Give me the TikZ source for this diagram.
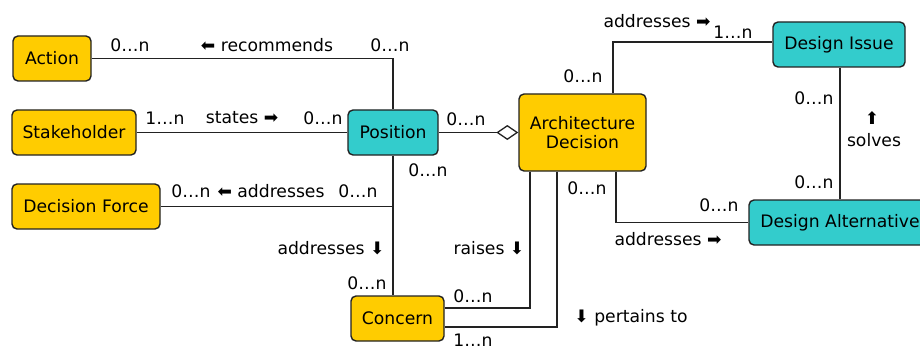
\documentclass[tikz,border=0pt]{standalone}
\usepackage{fontspec}
\setmainfont{DejaVu Sans}
\usetikzlibrary{arrows.meta}
\definecolor{yel}{HTML}{FFCC00}
\definecolor{cya}{HTML}{33CCCC}
\definecolor{edge}{HTML}{222222}
\begin{document}
\begin{tikzpicture}[x=1pt,y=-1pt,
  font=\fontsize{17.2}{20}\selectfont,
  basebox/.style={draw=edge, line width=1.4pt, rounded corners=5pt, minimum height=45pt, inner sep=0pt, align=center},
  ybox/.style={basebox, fill=yel},
  cbox/.style={basebox, fill=cya},
  conn/.style={draw=edge, line width=1.4pt},
  lbl/.style={inner sep=0pt, text=black}]
\useasboundingbox (0,0) rectangle (920,350);
\clip (0,0) rectangle (920,350);
% nodes
\node[ybox, minimum width=78pt] (action) at (52,58.5) {Action};
\node[ybox, minimum width=124pt] (stake) at (74,132.5) {Stakeholder};
\node[ybox, minimum width=148pt] (force) at (86,206.5) {Decision Force};
\node[cbox, minimum width=90pt] (pos) at (393,132.5) {Position};
\node[ybox, minimum width=127pt, minimum height=77pt] (ad) at (582.5,132.5) {Architecture\\[-1pt]Decision};
\node[cbox, minimum width=132pt] (di) at (839,44.5) {Design Issue};
\node[cbox, minimum width=182pt] (da) at (840,222.5) {Design Alternative};
\node[ybox, minimum width=93pt] (concern) at (397.5,318.5) {Concern};
% connectors
\draw[conn] (action.east) -| (pos.north);
\draw[conn] (stake.east) -- (pos.west);
\draw[conn] (force.east) -| (pos.south);
\draw[conn] (pos.south) -- (pos.south |- concern.north);
\draw[conn, -{Diamond[open, length=22pt, width=15pt, line width=1.3pt]}] (pos.east) -- (ad.west);
\draw[conn] ([xshift=-52.5pt]ad.south) |- ([yshift=10.5pt]concern.east);
\draw[conn] ([xshift=-25.5pt]ad.south) |- ([yshift=-8.5pt]concern.east);
\draw[conn] ([xshift=33.5pt]ad.south) |- (da.west);
\draw[conn] ([xshift=30.5pt]ad.north) |- ([yshift=2.5pt]di.west);
\draw[conn] (di.south -| da.north) -- (da.north);
% labels
\node[lbl] (l1) at (130,45) {0…n};
\node[lbl] (l2) at (267,45) {⬅ recommends};
\node[lbl] (l3) at (390,45) {0…n};
\node[lbl] (l4) at (165,118) {1…n};
\node[lbl] (l5) at (242,118) {states ➡};
\node[lbl] (l6) at (323,118) {0…n};
\node[lbl] (l7) at (466,119) {0…n};
\node[lbl] (l8) at (428,170) {0…n};
\node[lbl] (l9) at (191,191) {0…n};
\node[lbl] (l10) at (271,191) {⬅ addresses};
\node[lbl] (l11) at (358,191) {0…n};
\node[lbl] (l12) at (331,248) {addresses ⬇};
\node[lbl] (l13) at (367,283) {0…n};
\node[lbl] (l14) at (489,248) {raises ⬇};
\node[lbl] (l15) at (473,296) {0…n};
\node[lbl] (l16) at (631,318) {⬇ pertains to};
\node[lbl] (l17) at (473,340.5) {1…n};
\node[lbl] (l18) at (668,239) {addresses ➡};
\node[lbl] (l19) at (587,188) {0…n};
\node[lbl] (l20) at (719,205) {0…n};
\node[lbl] (l21) at (814,182) {0…n};
\node[lbl] (l22) at (872,118) {⬆};
\node[lbl] (l23) at (874,140) {solves};
\node[lbl] (l24) at (657,21) {addresses ➡};
\node[lbl] (l25) at (733,32) {1…n};
\node[lbl] (l26) at (583,76) {0…n};
\node[lbl] (l27) at (814,98) {0…n};
\end{tikzpicture}
\end{document}
